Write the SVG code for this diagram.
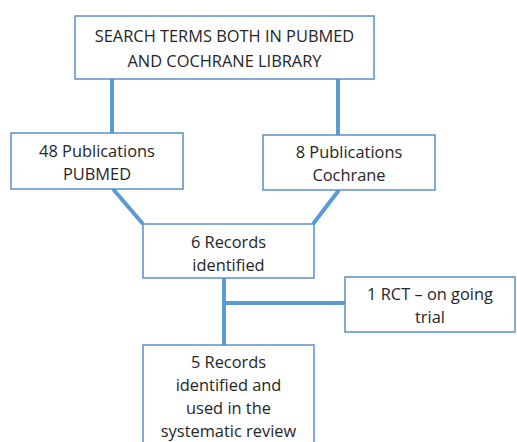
<svg xmlns="http://www.w3.org/2000/svg" width="517" height="442" viewBox="0 0 517 442">
<style>
.box{fill:#fff;stroke:#5b8fc9;stroke-width:1.5}
.t{font-family:"Open Sans","Liberation Sans",sans-serif;font-size:16.4px;fill:#262626;text-anchor:middle}
.c{stroke:#5b9bd5;stroke-width:4;fill:none}
</style>
<rect width="517" height="442" fill="#fff"/>
<g id="connectors">
<line class="c" x1="112" y1="79" x2="112" y2="133"/>
<line class="c" x1="338" y1="79" x2="338" y2="135"/>
<line class="c" x1="113" y1="189" x2="143" y2="224"/>
<line class="c" x1="339" y1="190" x2="313" y2="224"/>
<line class="c" x1="224" y1="278" x2="224" y2="345"/>
<line class="c" x1="224" y1="303" x2="345" y2="303"/>
</g>
<g id="search">
<rect class="box" x="75" y="16" width="299" height="63"/>
<text class="t" x="224.5" y="42">SEARCH TERMS BOTH IN PUBMED</text>
<text class="t" x="224.5" y="67">AND COCHRANE LIBRARY</text>
</g>
<g id="pubmed">
<rect class="box" x="11" y="133" width="172" height="56"/>
<text class="t" x="97" y="157">48 Publications</text>
<text class="t" x="97" y="180">PUBMED</text>
</g>
<g id="cochrane">
<rect class="box" x="263" y="135" width="172" height="55"/>
<text class="t" x="349" y="158">8 Publications</text>
<text class="t" x="349" y="181">Cochrane</text>
</g>
<g id="records6">
<rect class="box" x="143" y="224" width="171" height="54"/>
<text class="t" x="228.5" y="248">6 Records</text>
<text class="t" x="228.5" y="271">identified</text>
</g>
<g id="rct">
<rect class="box" x="345" y="277" width="170" height="55"/>
<text class="t" x="430" y="300">1 RCT – on going</text>
<text class="t" x="430" y="323">trial</text>
</g>
<g id="records5">
<rect class="box" x="143" y="345" width="171" height="110"/>
<text class="t" x="228.5" y="368">5 Records</text>
<text class="t" x="228.5" y="391">identified and</text>
<text class="t" x="228.5" y="414">used in the</text>
<text class="t" x="228.5" y="437">systematic review</text>
</g>
</svg>
